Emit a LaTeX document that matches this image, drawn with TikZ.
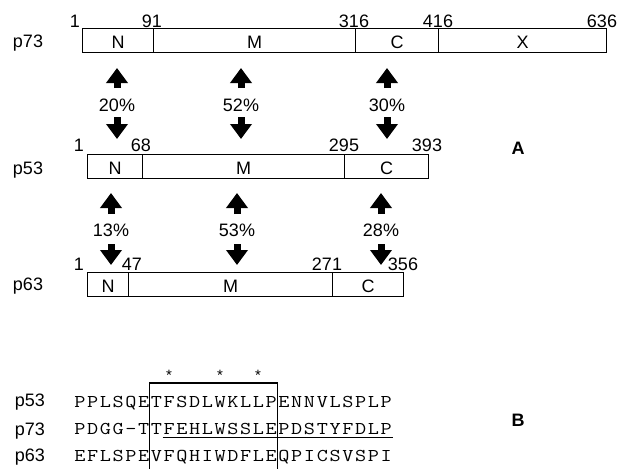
\documentclass[tikz,border=0pt]{standalone}
\usepackage{fontspec}
\usepackage{graphicx}
\setmainfont{Liberation Sans}
\usetikzlibrary{arrows.meta,calc}
\def\seqchars#1{\ifx#1\relax\else\makebox[12.76pt][c]{\scalebox{1.2}[1]{#1}}\expandafter\seqchars\fi}
\begin{document}
\begin{tikzpicture}[x=1pt,y=-1pt,
  every node/.style={font=\fontsize{18}{21}\selectfont},
  seg/.style={draw,line width=1.2pt,minimum height=24pt,inner sep=0pt,anchor=north west,text height=16.6pt,text depth=0pt},
  num/.style={anchor=base,inner sep=0pt},
  pname/.style={anchor=base,inner sep=0pt},
  pct/.style={anchor=base,inner sep=0pt},
  bigarrow/.style={line width=7pt,-{Triangle[width=21pt,length=15pt]}},
  seqtxt/.style={anchor=base west,inner sep=0pt,font=\ttfamily\fontsize{18}{21}\selectfont},
  starmark/.style={anchor=base,inner sep=0pt,font=\fontsize{15}{17}\selectfont},
  panel/.style={inner sep=0pt,font=\bfseries\fontsize{18}{21}\selectfont}]
\useasboundingbox (0,0) rectangle (622,469);
% ---------- p73 ----------
\node[pname] (l73) at (28,47.7) {p73};
\node[seg,minimum width=71pt]  (p73N) at (82,28)  {N};
\node[seg,minimum width=202pt] (p73M) at (153,28) {M};
\node[seg,minimum width=83pt]  (p73C) at (355,28) {C};
\node[seg,minimum width=168pt] (p73X) at (438,28) {X};
\node[num] (n73a) at (75,27.3)  {1};
\node[num] (n73b) at (152,27.3) {91};
\node[num] (n73c) at (354,27.3) {316};
\node[num] (n73d) at (438,27.3) {416};
\node[num] (n73e) at (602,27.3) {636};
% ---------- p53 ----------
\node[pname] (l53) at (28,174) {p53};
\node[seg,minimum width=55pt]  (p53N) at (87,154)  {N};
\node[seg,minimum width=202pt] (p53M) at (142,154) {M};
\node[seg,minimum width=84pt]  (p53C) at (344,154) {C};
\node[num] (n53a) at (79,151.7)  {1};
\node[num] (n53b) at (141,151.7) {68};
\node[num] (n53c) at (344,151.7) {295};
\node[num] (n53d) at (427,151.7) {393};
% ---------- p63 ----------
\node[pname] (l63) at (28,290) {p63};
\node[seg,minimum width=41pt]  (p63N) at (87,272)  {N};
\node[seg,minimum width=204pt] (p63M) at (128,272) {M};
\node[seg,minimum width=71pt]  (p63C) at (332,272) {C};
\node[num] (n63a) at (79,270)  {1};
\node[num] (n63b) at (132,270) {47};
\node[num] (n63c) at (327,270) {271};
\node[num] (n63d) at (403,270) {356};
% ---------- percentages and arrows, p73/p53 ----------
\node[pct] (pc20) at (117,111.7) {20\%};
\node[pct] (pc52) at (241,111.7) {52\%};
\node[pct] (pc30) at (387,111.7) {30\%};
\coordinate (u1s) at (117,88);  \coordinate (u1e) at (117,68);
\coordinate (u2s) at (241,88);  \coordinate (u2e) at (241,68);
\coordinate (u3s) at (387,88);  \coordinate (u3e) at (387,68);
\coordinate (d1s) at (117,117); \coordinate (d1e) at (117,139);
\coordinate (d2s) at (241,117); \coordinate (d2e) at (241,139);
\coordinate (d3s) at (387,117); \coordinate (d3e) at (387,139);
\foreach \i in {1,2,3} {
  \draw[bigarrow] (u\i s) -- (u\i e);
  \draw[bigarrow] (d\i s) -- (d\i e);
}
% ---------- percentages and arrows, p53/p63 ----------
\node[pct] (pc13) at (111,236) {13\%};
\node[pct] (pc53) at (237,236) {53\%};
\node[pct] (pc28) at (381,236) {28\%};
\coordinate (v1s) at (111,214); \coordinate (v1e) at (111,193);
\coordinate (v2s) at (237,214); \coordinate (v2e) at (237,193);
\coordinate (v3s) at (381,214); \coordinate (v3e) at (381,193);
\coordinate (w1s) at (111,244); \coordinate (w1e) at (111,265);
\coordinate (w2s) at (237,244); \coordinate (w2e) at (237,265);
\coordinate (w3s) at (381,244); \coordinate (w3e) at (381,265);
\foreach \i in {1,2,3} {
  \draw[bigarrow] (v\i s) -- (v\i e);
  \draw[bigarrow] (w\i s) -- (w\i e);
}
\node[panel] (pA) at (518,148) {A};
% ---------- part B ----------
\node[starmark] (s1) at (169,380) {*};
\node[starmark] (s2) at (220,380) {*};
\node[starmark] (s3) at (258,380) {*};
\node[pname] (b53) at (30,406.7) {p53};
\node[pname] (b73) at (30,435)   {p73};
\node[pname] (b63) at (30,461.7) {p63};
\node[seqtxt] (seq53) at (73.3,407.7) {\seqchars PPLSQETFSDLWKLLPENNVLSPLP\relax};
\node[seqtxt] (seq73) at (73.3,434.3) {\seqchars PDGG—TTFEHLWSSLEPDSTYFDLP\relax};
\node[seqtxt] (seq63) at (73.3,461.5) {\seqchars EFLSPEVFQHIWDFLEQPICSVSPI\relax};
\draw[line width=1pt] ($(seq73.base west)+(89.3,3.4)$) -- ($(seq73.base east)+(0.7,3.4)$);
\draw[line width=1.2pt] (149.5,469) -- (149.5,383) -- (277.5,383) -- (277.5,469);
\node[panel] (pB) at (518,420) {B};
\end{tikzpicture}
\end{document}
